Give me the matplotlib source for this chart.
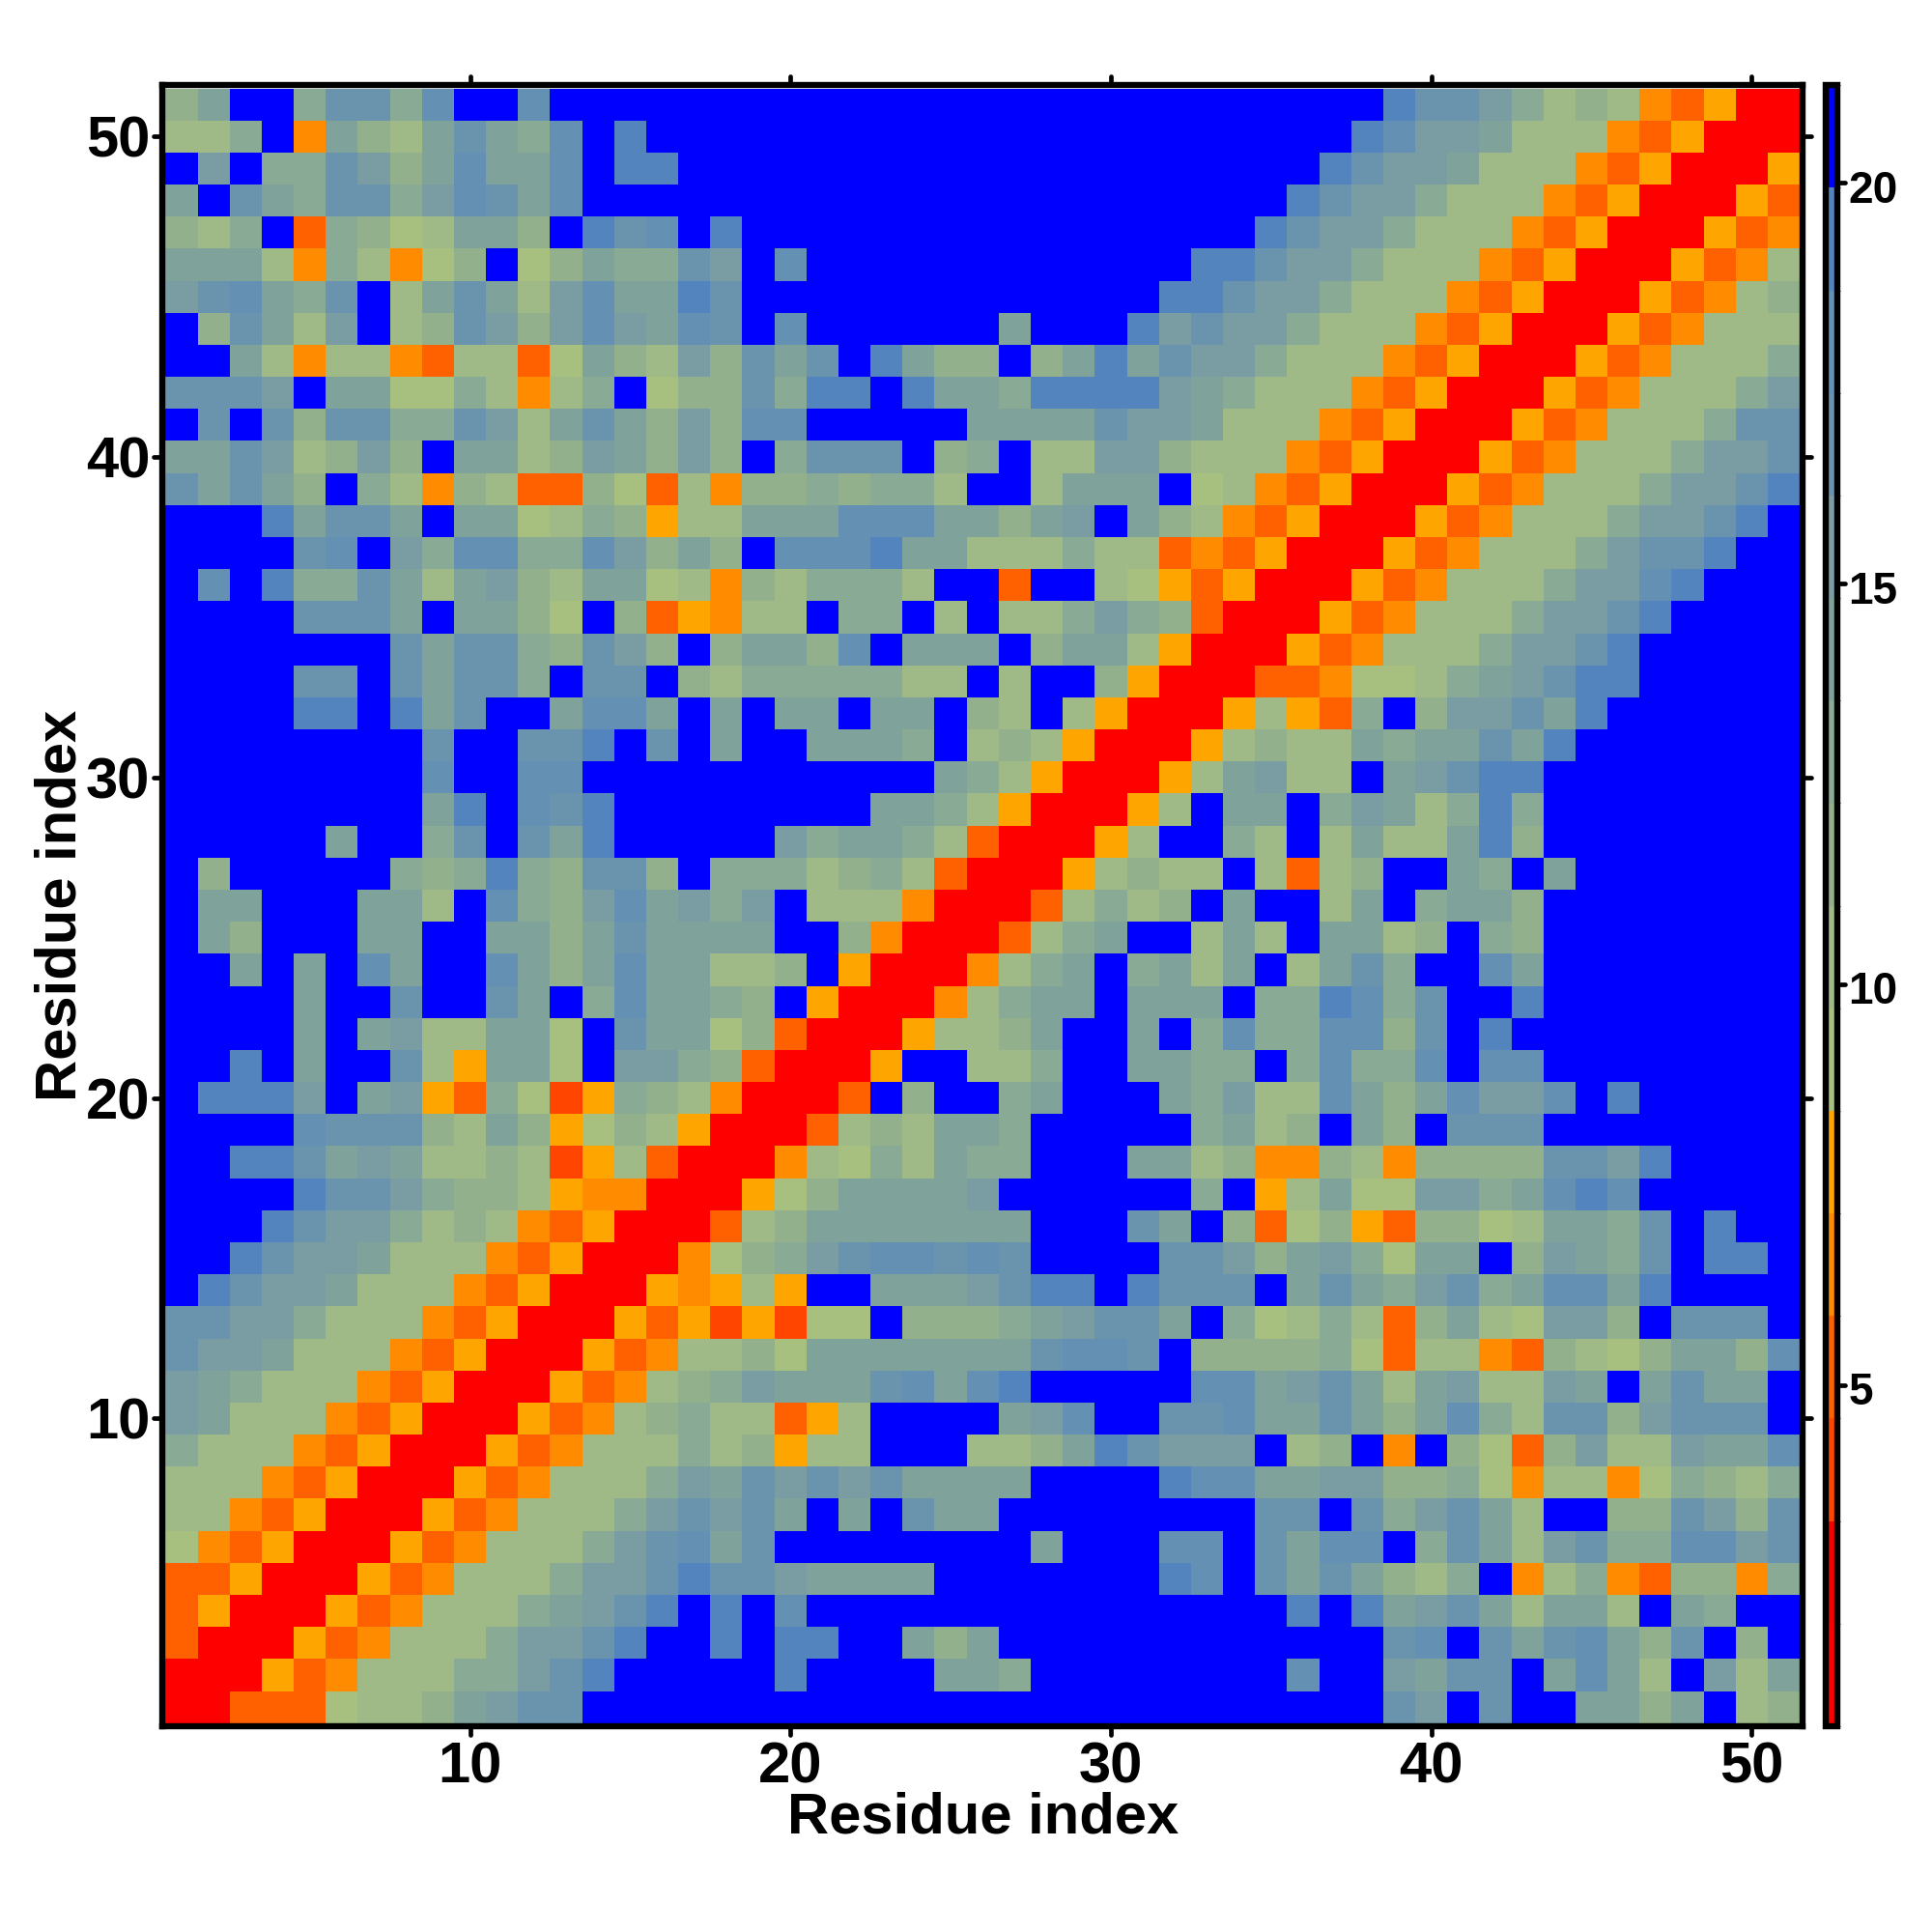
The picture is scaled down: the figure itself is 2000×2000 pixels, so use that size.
import numpy as np
import matplotlib
matplotlib.use('Agg')
import matplotlib.pyplot as plt
from matplotlib.colors import ListedColormap, BoundaryNorm
from matplotlib.markers import MarkerStyle, TICKLEFT, TICKRIGHT, TICKUP, TICKDOWN
from matplotlib.transforms import ScaledTranslation

plt.rcParams['font.family'] = ['Liberation Sans', 'DejaVu Sans']
plt.rcParams['font.weight'] = 'bold'

# colour band of every cell, row 51 first, one hex digit per residue
band_rows = [
    '8aff9cc9df fdffffffff ffffffffff ffffffffec cb97874350 0',
    '779f4a87ac a9dfefffff ffffffffff fffffffedb ba77743500 0',
    'fbf99cb8ad aadfeeffff ffffffffff ffffffecbb a777435000 5',
    'afca9cc9bd cadfffffff ffffffffff fffffecbb9 7774350005 3',
    '879f39867a a8fecdfeff ffffffffff ffffecbb97 7743500053 4',
    'aaa7497468 f68a99cbfd ffffffffff ffeecbb977 7435000534 7',
    'bcda9cf7ac a7bdaaecff ffffffffff feecbb9777 4350005347 8',
    'f8ca7bf78c b8bdbadcfd ffffffafff ebcbb97774 3500053477 7',
    'ffa7477437 736a87b8ca cfea88f8ae acbb977743 5000534777 9',
    'cccbfaa669 7479f688c9 eefeaa9eee eba9777435 0005347779 b',
    'fcfc8cc99c b7aca8b8dd fffffaaaac bba7774350 005347779c c',
    'aacb78b8fa a78ba8b8f9 cccf89f77b b877743500 05347779bb c',
    'caca8f9748 7338637488 98997ff7aa af67435000 5347779bbc e',
    'fffeaccafa a6798577aa adddaa8abf a874350005 347779bbce f',
    'ffffcdfb9d d99db8a8fd ddeaa77797 7343500053 47779bccef f',
    'fdfe99ca7a b87aa67487 9997ff3ff7 6535000534 7779bbdeff f',
    'ffffcccafa a86f835477 f99f7f779b 9830005347 779bbcefff f',
    'fffffffcac c98cb8f8aa 8dfaaaf8aa 7500053477 79bbceffff f',
    'ffffccfcac c9fccf8799 99977f7ff8 5000334667 9abceeffff f',
    'ffffeefeac ffaddafafa afaaf87f75 00057539f8 bbcaefffff f',
    'ffffffffcf fccefcfaff aaa9f78750 0057877a9a acaeffffff f',
    'ffffffffdf fddfffffff ffffa97500 057ab77fab ceefffffff f',
    'ffffffffae fdceffffff ffaa975000 57faaf9ba7 9e9fffffff f',
    'fffffaff9c fcaefffffb 9aa9730005 7ff97f7a77 ae8fffffff f',
    'f8fffff989 e98cc8f999 7897300057 877f7378ff a9faffffff f',
    'faafffaa7f d98bdab9bf 7774000379 78faff7af9 aa8fffffff f',
    'fa8fffaaff aa8acaaaaf f84000379a ff7a7faa78 f98fffffff f',
    'ffafafdaff da8adaa778 f5000479af 9a7af7ac9f fdafffffff f',
    'ffffaffcff caf9daa98f 5000479aaf aaaf99ed9c ffefffffff f',
    'ffffafab77 aa6fcaa683 0005778aff af9d99dd8c feffffffff f',
    'ffefaffc75 aa6fbb9830 005ff779ff aa99f9d99d fddfffffff f',
    'feeebfab53 9625987400 03f8ff9aff fa9b77da8a dbbdfeffff f',
    'ffffdccc87 a856875000 3787aa9fff ff9a78fa8f cccfffffff f',
    'ffeecaba77 8725730004 7697a99fff aa78448748 888ccbefff f',
    'ffffeccb98 8754400056 8aaaabffff ff9f57a66b b9adedffff f',
    'fffecbb978 7435000378 aaaaaaafff caf8368538 867aa9cfef f',
    'ffecbba777 4350004689 bcddcdcfff fccb8ab96a af8ba9cfee f',
    'fecbba7774 3500054575 ffaaabceef ecccfaca9b c9addaefff f',
    'ccbb977743 5000535252 66f8889abc caf9679738 a76bb8fccc f',
    'cbba777435 0005347786 aaaaaaacdd cf88889637 7438768aa8 d',
    'ba97774350 00534789ba aacdadefff ffddabca7a b77bafacaa f',
    'ba77743500 0534789773 57ffffabdf fccdaaca8a d97cc8bccc f',
    '9777435000 5347779785 77fff778ae cbbbf78f4f 8638b77baa d',
    '7774350005 347779bacb cbcaaaafff feddaabb88 9647746987 9',
    '7743500053 47779bcbca fafcaaffff ffffccfc9b ca7ff88cb8 c',
    '6435000534 7779bcdacf fffffffaff fddfcaddf9 ca7bc99ddb c',
    '3350005347 779bbceccb aaaaffffff fedfcaca87 9f47943884 9',
    '3500053477 79abcefefd ffffffffff fffffefeab ca7aa7fa9f f',
    '3000534777 9bbceffefe effa8affff ffffffffcd fcacda8cf8 f',
    '0005347779 9bcefffffe ffffaa9fff fffffdffba ccfada7fb7 a',
    '003336778a bccfffffff ffffffffff ffffffffcb fcffaa8af7 8',
]

# distance at each band, its edges and colour
band_values = [1.4, 2.7, 3.9, 5.2, 6.5, 7.8, 9.1, 10.3, 11.6, 12.9, 14.2, 15.5, 16.7, 18.0, 19.3, 20.6]
band_edges = [0.74, 2.02, 3.30, 4.58, 5.86, 7.14, 8.42, 9.70, 10.98,
              12.26, 13.54, 14.82, 16.10, 17.38, 18.66, 19.94, 21.22]
band_colors = ['#FF0000', '#F60000', '#FF4500', '#FF6000', '#FF8C00', '#FFA500',
               '#A7C080', '#9FBA87', '#93B08C', '#89AA94', '#7FA29B', '#7A9CA3',
               '#6A94AE', '#6490B4', '#5484BE', '#0000FF']

axis_ticks = [10, 20, 30, 40, 50]
cbar_ticks = [5, 10, 15, 20]
axis_label = 'Residue index'


def px_box(x0, y0, x1, y1):
    # pixel box in a 2000x2000 picture -> figure fractions
    return [x0 / 2000, 1 - y1 / 2000, (x1 - x0) / 2000, (y1 - y0) / 2000]


def round_ticks(axis, first, second):
    for tick in axis.get_major_ticks():
        tick.tick1line.set_marker(MarkerStyle(first, capstyle='round'))
        tick.tick2line.set_marker(MarkerStyle(second, capstyle='round'))


def main():
    rows = [r.replace(' ', '') for r in band_rows]
    bands = np.array([[int(c, 16) for c in r] for r in rows])[::-1]
    dist = np.array(band_values)[bands]

    cmap = ListedColormap(band_colors)
    norm = BoundaryNorm(band_edges, cmap.N)

    fig = plt.figure(figsize=(20, 20), dpi=100)
    ax = fig.add_axes(px_box(168.3, 88.3, 1866.2, 1786.9))

    edges = np.arange(0.5, 52.5)
    mesh = ax.pcolormesh(edges, edges, dist, cmap=cmap, norm=norm, linewidth=0, rasterized=True)

    # border sits outside of the cells
    pad = 3.2 / 33.17
    ax.set_xlim(0.5 - pad, 51.5 + pad)
    ax.set_ylim(0.5 - pad, 51.5 + pad)
    ax.set_xticks(axis_ticks)
    ax.set_yticks(axis_ticks)
    ax.tick_params(which='major', direction='out', length=6.2, width=3.4, top=True, right=True,
                   labelsize=43, pad=5)
    ax.tick_params(axis='y', pad=3)
    round_ticks(ax.xaxis, TICKDOWN, TICKUP)
    round_ticks(ax.yaxis, TICKLEFT, TICKRIGHT)
    for s in ax.spines.values():
        s.set_linewidth(4.6)

    ax.set_xlabel(axis_label, fontsize=43, fontweight='bold')
    ax.set_ylabel(axis_label, fontsize=43, fontweight='bold')
    ax.xaxis.set_label_coords(0.5, -0.040)
    ax.yaxis.set_label_coords(-0.0456, 0.5)

    cax = fig.add_axes(px_box(1889.5, 88.3, 1901.5, 1786.9))
    cbar = fig.colorbar(mesh, cax=cax, ticks=cbar_ticks, spacing='proportional')
    cbar.outline.set_linewidth(4.6)
    cax.tick_params(direction='out', length=5.5, width=3.4, labelsize=33, pad=3)
    round_ticks(cax.yaxis, TICKLEFT, TICKRIGHT)
    # labels sit a little lower than the ticks
    shift = ScaledTranslation(0, -2.5 / 72, fig.dpi_scale_trans)
    for lab in cax.get_yticklabels():
        lab.set_transform(lab.get_transform() + shift)

    fig.savefig('out.png', dpi=100, facecolor='white')


if __name__ == '__main__':
    main()
